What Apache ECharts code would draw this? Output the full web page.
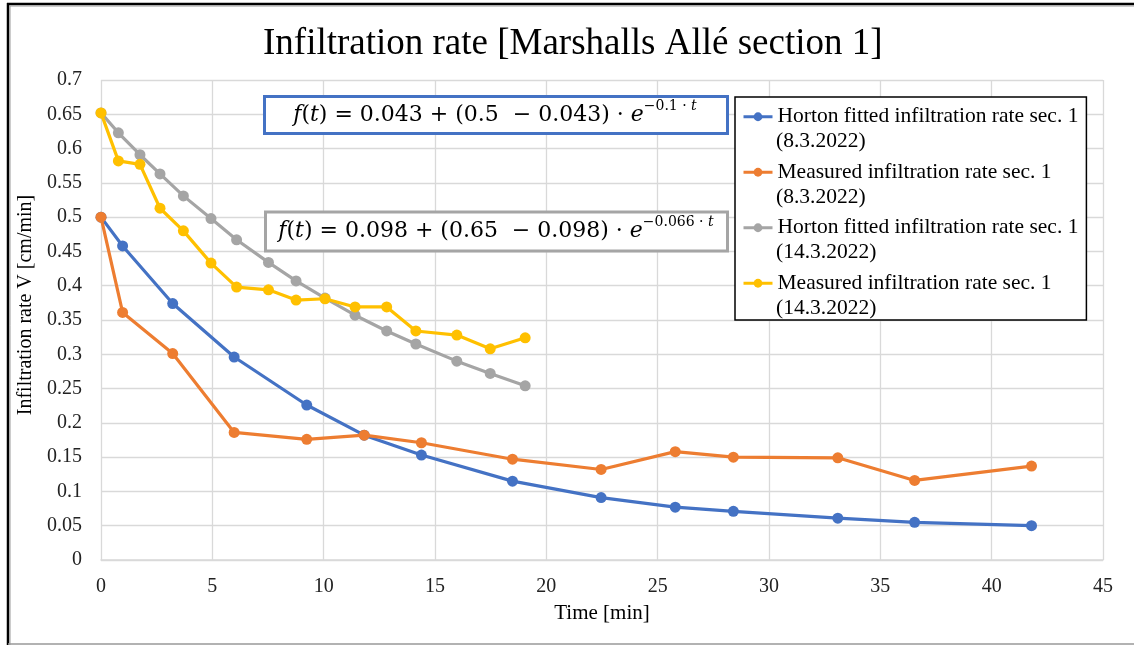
<!DOCTYPE html>
<html>
<head>
<meta charset="utf-8">
<script src="https://cdn.jsdelivr.net/npm/echarts@6/dist/echarts.min.js"></script>
<style>
html,body{margin:0;padding:0;background:#fff;}
#chart{width:1134px;height:645px;}
</style>
</head>
<body>
<div id="chart"></div>
<script>
// ---- data ----
const timeSec1 = [0, 0.97, 3.22, 5.98, 9.24, 11.82, 14.39, 18.48, 22.46, 25.79, 28.40, 33.09, 36.54, 41.79];
const hortonSec1 = [0.5, 0.458, 0.374, 0.296, 0.226, 0.182, 0.153, 0.115, 0.091, 0.077, 0.071, 0.061, 0.055, 0.050];
const measuredSec1 = [0.5, 0.361, 0.301, 0.186, 0.176, 0.182, 0.171, 0.147, 0.132, 0.158, 0.150, 0.149, 0.116, 0.137];

const timeSec1b = [0, 0.78, 1.75, 2.65, 3.70, 4.94, 6.09, 7.52, 8.76, 10.06, 11.41, 12.83, 14.14, 15.98, 17.48, 19.05];
const hortonSec1b = [0.652, 0.623, 0.591, 0.563, 0.531, 0.498, 0.467, 0.434, 0.407, 0.382, 0.357, 0.334, 0.315, 0.290, 0.272, 0.254];
const measuredSec1b = [0.652, 0.582, 0.577, 0.513, 0.480, 0.433, 0.398, 0.394, 0.379, 0.381, 0.369, 0.369, 0.334, 0.328, 0.308, 0.324];

const seriesNames = [
  ['Horton fitted infiltration rate sec. 1', '(8.3.2022)'],
  ['Measured infiltration rate sec. 1', '(8.3.2022)'],
  ['Horton fitted infiltration rate sec. 1', '(14.3.2022)'],
  ['Measured infiltration rate sec. 1', '(14.3.2022)']
];
const colors = ['#4472C4', '#ED7D31', '#A5A5A5', '#FFC000'];
const titleText = 'Infiltration rate [Marshalls Allé section 1]';
const xName = 'Time [min]';
const yName = 'Infiltration rate V [cm/min]';
const eq1 = '{i|f}({i|t}) = 0.043 + (0.5  − 0.043) · {i|e}{s|−0.1 · }{si|t}';
const eq2 = '{i|f}({i|t}) = 0.098 + (0.65  − 0.098) · {i|e}{s|−0.066 · }{si|t}';

// ---- build ----
const serif = 'Liberation Serif';
const eqFont = 'DejaVu Serif';
const fullNames = seriesNames.map(n => n[0] + ' ' + n[1]);
const xs = [timeSec1, timeSec1, timeSec1b, timeSec1b];
const ys = [hortonSec1, measuredSec1, hortonSec1b, measuredSec1b];

const series = ys.map((vals, k) => ({
  name: fullNames[k],
  type: 'line',
  data: vals.map((v, i) => [xs[k][i], v]),
  symbol: 'circle',
  symbolSize: 11,
  showSymbol: true,
  color: colors[k],
  lineStyle: { width: 3.2, color: colors[k] },
  itemStyle: { color: colors[k] },
  z: 2 + k
}));

const eqRich = {
  i: { fontFamily: eqFont, fontStyle: 'italic', fontSize: 22, lineHeight: 32, verticalAlign: 'middle' },
  s: { fontFamily: eqFont, fontSize: 14, lineHeight: 14, verticalAlign: 'top' },
  si: { fontFamily: eqFont, fontStyle: 'italic', fontSize: 14, lineHeight: 14, verticalAlign: 'top' }
};

const legendCommon = {
  orient: 'vertical',
  left: 735,
  itemWidth: 29,
  itemHeight: 11,
  itemGap: 30,
  padding: [7, 8, 24, 7],
  data: fullNames,
  textStyle: { fontFamily: serif, fontSize: 21.5, lineHeight: 25.5, color: '#000' }
};

const option = {
  backgroundColor: '#fff',
  animation: false,
  title: {
    text: titleText,
    left: 258,
    top: 21,
    textStyle: { fontFamily: serif, fontSize: 37, fontWeight: 'normal', color: '#000' }
  },
  grid: { left: 101, right: 31, top: 80, bottom: 85 },
  legend: [
    Object.assign({}, legendCommon, {
      top: 97,
      borderColor: '#000',
      borderWidth: 1.5,
      backgroundColor: '#fff',
      lineStyle: { width: 3 },
      formatter: name => seriesNames[fullNames.indexOf(name)][0]
    }),
    Object.assign({}, legendCommon, {
      top: 122,
      selectedMode: false,
      itemStyle: { opacity: 0 },
      lineStyle: { opacity: 0, width: 0 },
      formatter: name => seriesNames[fullNames.indexOf(name)][1]
    })
  ],
  xAxis: {
    type: 'value',
    min: 0, max: 45, interval: 5,
    name: xName,
    nameLocation: 'middle',
    nameGap: 43,
    nameTextStyle: { fontFamily: serif, fontSize: 21, color: '#000' },
    axisLine: { show: true, lineStyle: { color: '#D9D9D9', width: 1.5 } },
    axisTick: { show: false },
    axisLabel: { fontFamily: serif, fontSize: 20, color: '#222', margin: 17 },
    splitLine: { show: true, lineStyle: { color: '#D9D9D9', width: 1.3 } }
  },
  yAxis: {
    type: 'value',
    min: 0, max: 0.7, interval: 0.05,
    name: yName,
    nameLocation: 'middle',
    nameGap: 54,
    nameRotate: 90,
    nameTextStyle: { fontFamily: serif, fontSize: 20, color: '#000', padding: [0, 0, 0, 30] },
    axisLine: { show: false },
    axisTick: { show: false },
    axisLabel: {
      fontFamily: serif, fontSize: 20, color: '#222', margin: 19,
      formatter: v => String(parseFloat(v.toFixed(2)))
    },
    splitLine: { show: true, lineStyle: { color: '#D9D9D9', width: 1.3 } }
  },
  graphic: [
    { type: 'line', shape: { x1: 8, y1: 3, x2: 8, y2: 645 }, style: { stroke: '#000', lineWidth: 2.5 }, z: 100 },
    { type: 'line', shape: { x1: 7, y1: 4, x2: 1134, y2: 4 }, style: { stroke: '#000', lineWidth: 2.5 }, z: 100 },
    { type: 'line', shape: { x1: 10, y1: 6, x2: 1134, y2: 6 }, style: { stroke: '#999', lineWidth: 1 }, z: 100 },
    { type: 'line', shape: { x1: 10, y1: 6, x2: 10, y2: 645 }, style: { stroke: '#999', lineWidth: 1 }, z: 100 },
    { type: 'line', shape: { x1: 8, y1: 644, x2: 1134, y2: 644 }, style: { stroke: '#999', lineWidth: 1.5 }, z: 100 },
    { type: 'rect', shape: { x: 264.5, y: 96.5, width: 463, height: 37 }, style: { fill: '#fff', stroke: '#4472C4', lineWidth: 3 }, z: 100 },
    { type: 'text', x: 495, y: 115, style: { text: eq1, rich: eqRich, fontFamily: eqFont, fontSize: 22, lineHeight: 32, fill: '#000', align: 'center', verticalAlign: 'middle' }, z: 101 },
    { type: 'rect', shape: { x: 265.5, y: 212, width: 462, height: 39 }, style: { fill: '#fff', stroke: '#A5A5A5', lineWidth: 3 }, z: 100 },
    { type: 'text', x: 496, y: 231.5, style: { text: eq2, rich: eqRich, fontFamily: eqFont, fontSize: 22, lineHeight: 32, fill: '#000', align: 'center', verticalAlign: 'middle' }, z: 101 }
  ],
  series: series
};

const chart = echarts.init(document.getElementById('chart'), null, { renderer: 'canvas' });
chart.setOption(option);
</script>
</body>
</html>
